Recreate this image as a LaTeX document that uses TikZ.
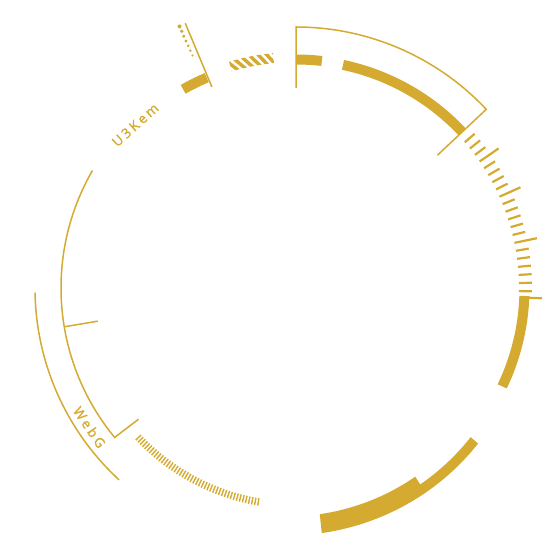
\documentclass[tikz,border=0pt]{standalone}
\usepackage{fontspec}
\setsansfont{Open Sans}
\definecolor{gold}{RGB}{212,170,48}

\begin{document}
\begin{tikzpicture}[x=1pt,y=1pt,
 thin/.style={draw=gold,line width=1.5pt},
 band/.style={draw=gold,line width=10pt},
 tick/.style={draw=gold,line width=2.2pt},
 fine/.style={draw=gold,line width=1.4pt},
 lbl/.style={text=gold,inner sep=0pt,font=\sffamily\fontsize{13.5}{13.5}\selectfont\addfontfeatures{LetterSpace=20,FakeBold=1.4}}]
\useasboundingbox (-296,-268) rectangle (260,288);
% frame top right
\draw[thin] (90:200) -- (90:261) arc[start angle=90,end angle=43.2,radius=261] -- (43.2:194);
\draw[band] (90:228.5) arc[start angle=90,end angle=83.5,radius=228.5];
\draw[band] (78.1:228) arc[start angle=78.1,end angle=43.2,radius=228];
% ticks right
\foreach \i in {1,...,21}{
  \pgfmathsetmacro{\ang}{40.8-2.08*(\i-1)}
  \pgfmathsetmacro{\rr}{(\i==4||\i==9||\i==15)?246:236}
  \draw[tick] (\ang:223) -- (\ang:\rr);
}
\draw[band] (-2:228.5) arc[start angle=-2,end angle=-25.5,radius=228.5];
\draw[tick] (-2.4:233) -- (-2.4:246);
% bottom band
\fill[gold] plot[domain=-40.5:-84,samples=40] (\x:{239.4+0.16*(-40-\x)})
  -- plot[domain=-84:-57.7,samples=30] (\x:{220.4+0.16*(-40-\x)})
  -- plot[domain=-57.7:-40.5,samples=20] (\x:{229.6+0.16*(-40-\x)}) -- cycle;
% fine ticks bottom left
\foreach \i in {0,...,45}{
  \pgfmathsetmacro{\ang}{223.5+\i*36.5/45}
  \draw[fine] (\ang:213.5) -- (\ang:221);
}
% left arcs
\draw[thin] (150:235) arc[start angle=150,end angle=219.5,radius=235] -- (219.8:205);
\draw[thin] (189.5:235) -- (189.5:201);
\draw[thin] (181:261) arc[start angle=181,end angle=227.3,radius=261];
\node[lbl,rotate=-56] (webg) at (214:249) {WebG};
\node[lbl,rotate=42] (u3kem) at (134.6:229) {U3Kem};
% top left
\draw[thin] (112.7:218) -- (112.7:287);
\foreach \i in {0,...,6}
  \fill[gold] (114:{286.3-5.3*\i}) circle[radius={2-0.13*\i}];
\draw[band] (113:228.5) arc[start angle=113,end angle=119.6,radius=228.5];
\begin{scope}
  \clip (95.6:226) arc[start angle=95.6,end angle=106.5,radius=226]
    -- (106.5:236) arc[start angle=106.5,end angle=95.6,radius=236] -- cycle;
  \foreach \i in {0,...,8}{
    \pgfmathsetmacro{\ang}{90.5+\i*1.9}
    \draw[gold,line width=3.4pt] (\ang:220) -- (\ang+4:242);
  }
\end{scope}
\end{tikzpicture}
\end{document}
